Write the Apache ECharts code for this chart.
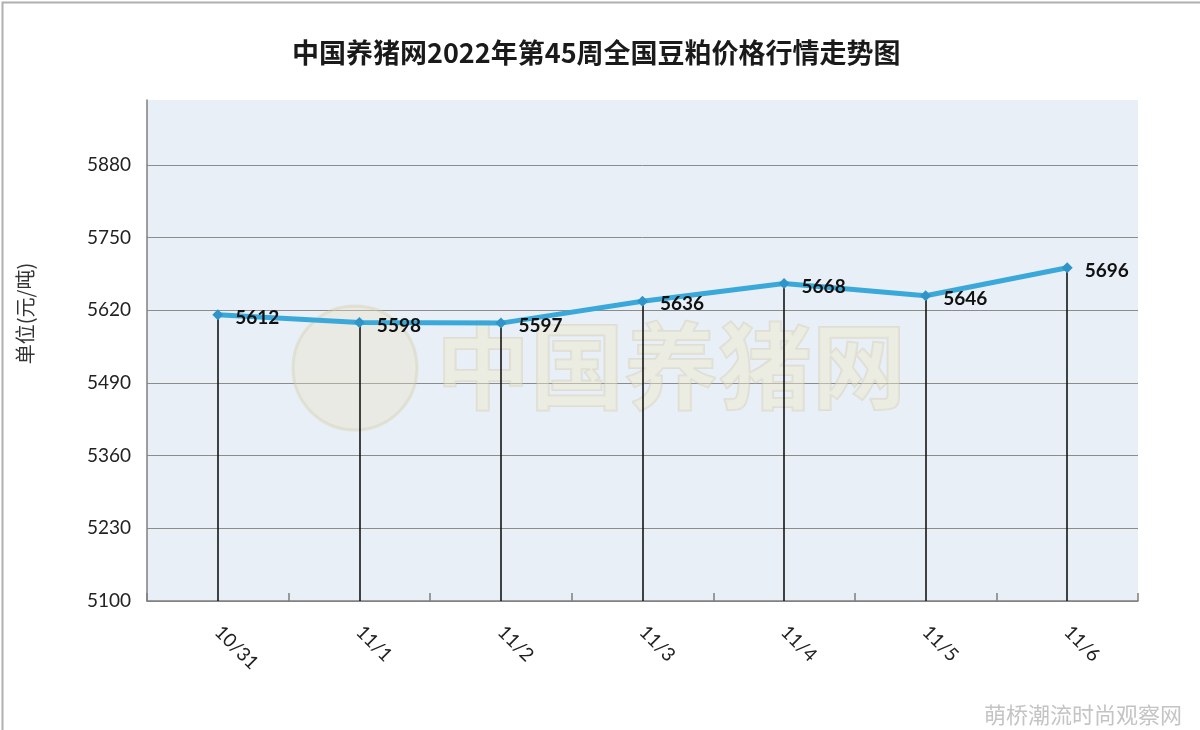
<!DOCTYPE html>
<html>
<head>
<meta charset="utf-8">
<style>html,body{margin:0;padding:0;background:#fff;}#c{width:1200px;height:730px;}</style>
<script src="https://cdn.jsdelivr.net/npm/echarts@6/dist/echarts.min.js"></script>
</head>
<body>
<div id="c"></div>
<script>
var categories = ['10/31', '11/1', '11/2', '11/3', '11/4', '11/5', '11/6'];
var prices = [5612, 5598, 5597, 5636, 5668, 5646, 5696];
var yMin = 5100, yMax = 5996, yStep = 130;
var titleText = '中国养猪网2022年第45周全国豆粕价格行情走势图';
var yName = '单位(元/吨)';

var chart = echarts.init(document.getElementById('c'));
var dropLines = prices.map(function (v, i) {
  return [{ coord: [categories[i], yMin] }, { coord: [categories[i], v] }];
});
chart.setOption({
  backgroundColor: '#ffffff',
  animation: false,
  title: {
    text: titleText,
    left: 287,
    top: 34,
    textStyle: { fontFamily: 'Noto Sans CJK SC', fontSize: 27, fontWeight: 'bold', color: '#1a1a1a' }
  },
  graphic: [
    { type: 'rect', left: 0, top: 0, shape: { width: 1199, height: 729 }, style: { fill: 'none', stroke: '#b0b0b0', lineWidth: 2 }, z: 100, silent: true },
    { type: 'circle', shape: { cx: 355, cy: 368, r: 62 }, style: { fill: 'rgba(236,226,190,0.35)', stroke: 'rgba(210,200,160,0.35)', lineWidth: 3 }, z: 1, silent: true },
    { type: 'text', left: 435, top: 318, style: { text: '中国养猪网', fontFamily: 'Noto Sans CJK SC', fontSize: 94, fontWeight: 'bold', fill: 'rgba(240,232,200,0.45)', stroke: 'rgba(200,190,160,0.35)', lineWidth: 2 }, z: 1, silent: true },
    { type: 'text', right: 18, bottom: 4, style: { text: '萌桥潮流时尚观察网', fontFamily: 'Noto Sans CJK SC', fontSize: 22, fill: '#c4c4c4' }, z: 100, silent: true }
  ],
  grid: {
    left: 147, right: 62, top: 100, bottom: 129,
    show: true, backgroundColor: '#e8eff7', borderWidth: 0
  },
  xAxis: {
    type: 'category',
    data: categories,
    boundaryGap: true,
    axisLine: { show: true, lineStyle: { color: '#7f7f7f', width: 1.5 } },
    axisTick: { show: true, inside: true, length: 8, alignWithLabel: false, lineStyle: { color: '#7f7f7f', width: 1.5 } },
    axisLabel: { rotate: -45, margin: 28, fontFamily: 'Lato', fontSize: 19, color: '#222' },
    splitLine: { show: false }
  },
  yAxis: {
    type: 'value',
    min: yMin, max: yMax, interval: yStep,
    name: yName,
    nameLocation: 'middle',
    nameGap: 112,
    nameTextStyle: { fontFamily: 'Noto Sans CJK SC', fontSize: 20, color: '#333', padding: [0, 0, 0, 74] },
    axisLine: { show: true, lineStyle: { color: '#7f7f7f', width: 1.5 } },
    axisTick: { show: false },
    axisLabel: {
      margin: 16, fontFamily: 'Lato', fontSize: 19, color: '#222', showMaxLabel: false,
      formatter: function (v) { return String(v); }
    },
    splitLine: { show: true, showMaxLine: false, lineStyle: { color: '#8c8c8c', width: 1 } }
  },
  series: [
    {
      type: 'line',
      data: prices,
      symbol: 'none',
      lineStyle: { opacity: 0 },
      silent: true,
      z: 2,
      markLine: {
        silent: true,
        symbol: 'none',
        label: { show: false },
        lineStyle: { color: '#151515', width: 1.6, type: 'solid' },
        data: dropLines
      }
    },
    {
      type: 'line',
      data: prices,
      z: 5,
      symbol: 'diamond',
      symbolSize: 11,
      itemStyle: { color: '#2f95c8' },
      lineStyle: { color: '#3aa9d9', width: 5 },
      label: {
        show: true,
        position: 'right',
        distance: 12,
        offset: [0, 3],
        fontFamily: 'Lato',
        fontSize: 19,
        fontWeight: 'bold',
        color: '#111'
      }
    }
  ]
});
</script>
</body>
</html>
